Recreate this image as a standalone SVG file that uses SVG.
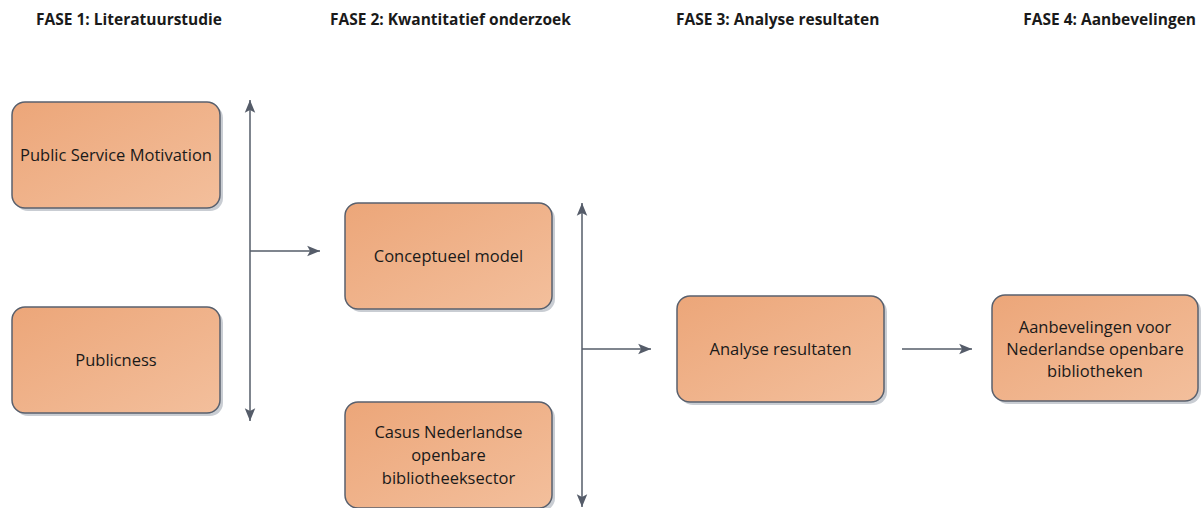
<svg xmlns="http://www.w3.org/2000/svg" width="1201" height="508" viewBox="0 0 1201 508">
<style>
.title{font-family:"Open Sans","Liberation Sans",sans-serif;font-weight:bold;font-size:15.5px;fill:#1a1a1a}
.lbl{font-family:"Open Sans","Liberation Sans",sans-serif;font-size:16.5px;fill:#1a1a1a;text-anchor:middle}
.box{fill:url(#g);stroke:#59606d;stroke-width:1.5}
.sh{fill:#c9cdd3}
.con{stroke:#555c69;stroke-width:1.5;fill:none}
</style>
<defs>
<linearGradient id="g" x1="0" y1="0" x2="1" y2="1">
<stop offset="0" stop-color="#eca679"/>
<stop offset="1" stop-color="#f3bf9c"/>
</linearGradient>
<marker id="ah" markerUnits="userSpaceOnUse" markerWidth="14" markerHeight="12" viewBox="0 0 12 10" refX="11" refY="5" orient="auto-start-reverse">
<path d="M0,0.5 L11,5 L0,9.5 L2.5,5 z" fill="#555c69"/>
</marker>
</defs>
<g id="titles">
<text class="title" x="36" y="25">FASE 1: Literatuurstudie</text>
<text class="title" x="330" y="25">FASE 2: Kwantitatief onderzoek</text>
<text class="title" x="676" y="25">FASE 3: Analyse resultaten</text>
<text class="title" x="1196" y="25" text-anchor="end">FASE 4: Aanbevelingen</text>
</g>
<g id="connectors">
<line class="con" x1="250" y1="100" x2="250" y2="421" marker-start="url(#ah)" marker-end="url(#ah)"/>
<line class="con" x1="250" y1="251" x2="320" y2="251" marker-end="url(#ah)"/>
<line class="con" x1="582" y1="203" x2="582" y2="507" marker-start="url(#ah)" marker-end="url(#ah)"/>
<line class="con" x1="582" y1="349" x2="651" y2="349" marker-end="url(#ah)"/>
<line class="con" x1="902" y1="349" x2="972" y2="349" marker-end="url(#ah)"/>
</g>
<g id="psm">
<rect class="sh" x="15" y="105" width="208" height="106" rx="13"/>
<rect class="box" x="12" y="102" width="208" height="106" rx="13"/>
<text class="lbl" x="116" y="161">Public Service Motivation</text>
</g>
<g id="publicness">
<rect class="sh" x="15" y="310" width="208" height="106" rx="13"/>
<rect class="box" x="12" y="307" width="208" height="106" rx="13"/>
<text class="lbl" x="116" y="366">Publicness</text>
</g>
<g id="conceptueel">
<rect class="sh" x="348" y="206" width="207" height="106" rx="13"/>
<rect class="box" x="345" y="203" width="207" height="106" rx="13"/>
<text class="lbl" x="448.5" y="262">Conceptueel model</text>
</g>
<g id="casus">
<rect class="sh" x="348" y="405" width="207" height="106" rx="13"/>
<rect class="box" x="345" y="402" width="207" height="106" rx="13"/>
<text class="lbl" x="448.5" y="438">Casus Nederlandse</text>
<text class="lbl" x="448.5" y="461">openbare</text>
<text class="lbl" x="448.5" y="484">bibliotheeksector</text>
</g>
<g id="analyse">
<rect class="sh" x="680" y="299" width="207" height="106" rx="13"/>
<rect class="box" x="677" y="296" width="207" height="106" rx="13"/>
<text class="lbl" x="780.5" y="355">Analyse resultaten</text>
</g>
<g id="aanbevelingen">
<rect class="sh" x="995" y="298" width="206" height="106" rx="13"/>
<rect class="box" x="992" y="295" width="206" height="106" rx="13"/>
<text class="lbl" x="1095" y="333">Aanbevelingen voor</text>
<text class="lbl" x="1095" y="355">Nederlandse openbare</text>
<text class="lbl" x="1095" y="377">bibliotheken</text>
</g>
</svg>
